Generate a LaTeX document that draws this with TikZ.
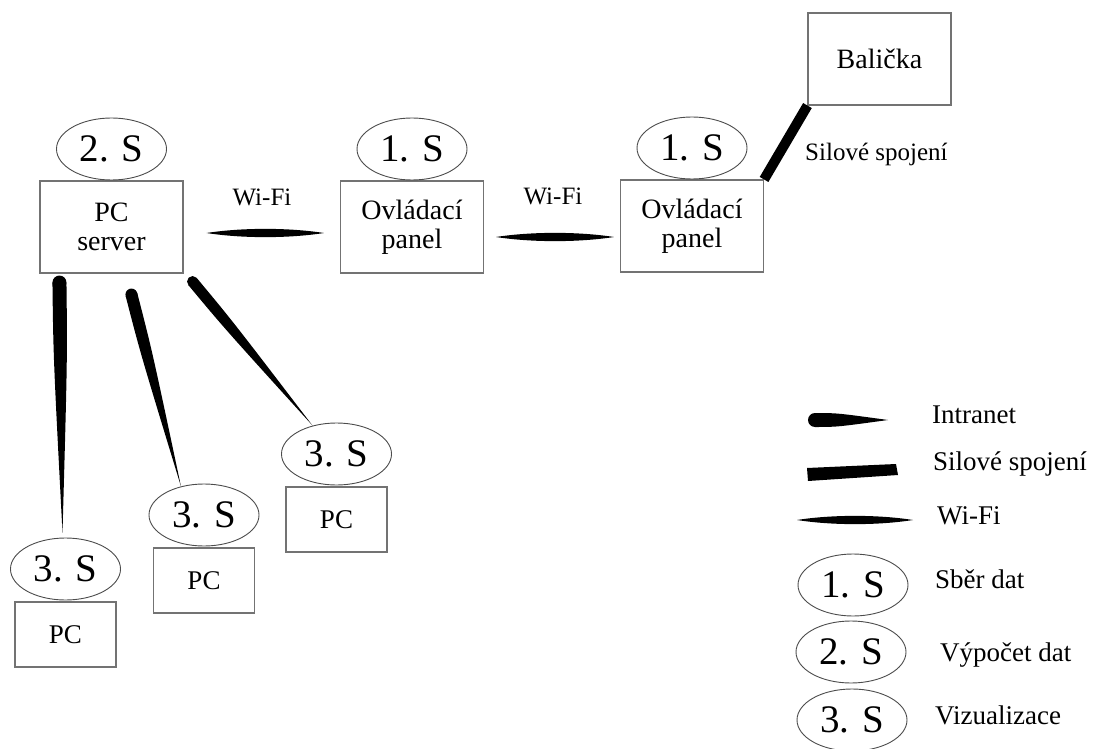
\documentclass[tikz,border=0pt]{standalone}
\usepackage{fontspec}
\setmainfont{Liberation Serif}
\usetikzlibrary{positioning,calc,shapes.geometric}

% lens shaped Wi-Fi link
\newcommand{\wifilink}[2]{%
  \fill (#1) .. controls ($(#1)!0.3!(#2)!5.5pt!90:(#2)$) and ($(#1)!0.7!(#2)!5.5pt!90:(#2)$) .. (#2)
    .. controls ($(#1)!0.7!(#2)!5.5pt!-90:(#2)$) and ($(#1)!0.3!(#2)!5.5pt!-90:(#2)$) .. (#1) -- cycle;}
% tapered Intranet link, round end at #1
\newcommand{\intranetlink}[3]{%
  \fill (#1) circle (#3);
  \fill ($(#1)!#3!90:(#2)$) .. controls ($(#1)!0.3!(#2)!#3!90:(#2)$) .. (#2)
    .. controls ($(#1)!0.3!(#2)!#3!-90:(#2)$) .. ($(#1)!#3!-90:(#2)$) -- cycle;}

\begin{document}
\begin{tikzpicture}[x=1pt,y=-1pt,
    box/.style={draw=black!55,line width=1.1pt,minimum width=143pt,minimum height=92pt,
      align=center,font=\fontsize{28}{29}\selectfont},
    pcbox/.style={box,minimum width=101pt,minimum height=65pt,font=\fontsize{27}{29}\selectfont},
    stage/.style={ellipse,draw=black!70,line width=0.9pt,minimum width=110pt,
      minimum height=62pt,inner sep=0pt,font=\fontsize{39}{40}\selectfont},
    lbl/.style={font=\fontsize{25}{28}\selectfont,inner sep=0pt},
    keylbl/.style={lbl,anchor=mid west,font=\fontsize{27}{29}\selectfont},
    silove/.style={line width=10pt}]
  \useasboundingbox (0,0) rectangle (1093,749);

  %Server and panels
  \node[box] (srv) at (111.5,227) {PC\\server};
  \node[stage,above=0pt of srv] (s2) {2. S};
  \node[box] (pan1) at (412,227) {Ovládací\\panel};
  \node[stage,above=0pt of pan1] (s1a) {1. S};
  \node[box] (pan2) at (692,226) {Ovládací\\panel};
  \node[stage,above=0pt of pan2] (s1b) {1. S};
  \node[box] (bal) at (879.5,59) {Balička};

  %PCs
  \node[pcbox] (pcA) at (65.5,634.5) {PC};
  \node[stage,above=1pt of pcA] (s3a) {3. S};
  \node[pcbox] (pcB) at (204,580.5) {PC};
  \node[stage,above=1pt of pcB] (s3b) {3. S};
  \node[pcbox] (pcC) at (336.5,519.5) {PC};
  \node[stage,above=1pt of pcC] (s3c) {3. S};

  %Wi-Fi
  \node[lbl] (wf1) at (262,197) {Wi-Fi};
  \node[lbl] (wf2) at (553,196) {Wi-Fi};
  \coordinate (w1a) at ($(srv.east)+(23,6)$);
  \coordinate (w1b) at ($(pan1.west)+(-16,6)$);
  \coordinate (w2a) at ($(pan1.east)+(12,10)$);
  \coordinate (w2b) at ($(pan2.west)+(-6,11)$);
  \wifilink{w1a}{w1b}
  \wifilink{w2a}{w2b}

  %Silove spojeni
  \draw[silove] (pan2.north east) -- (bal.south west);
  \node[lbl,anchor=mid west] (lsil) at (805,158) {Silové spojení};

  %Intranet
  \coordinate (i1a) at ($(srv.south west)+(20,9)$);
  \coordinate (i1b) at ($(s3a.north)+(-3,-5)$);
  \coordinate (i2a) at ($(srv.south west)+(92,21)$);
  \coordinate (i2b) at ($(s3b.north)+(-23,3)$);
  \coordinate (i3a) at ($(srv.south east)+(9,8)$);
  \coordinate (i3b) at ($(s3c.north)+(-24,3)$);
  \intranetlink{i1a}{i1b}{7pt}
  \intranetlink{i2a}{i2b}{6pt}
  \intranetlink{i3a}{i3b}{5.5pt}

  %Legend
  \coordinate (ki1) at (815,420);
  \coordinate (ki2) at (888,420);
  \intranetlink{ki1}{ki2}{7pt}
  \fill (807,468) -- (808,481) -- (898,475) -- (896,464) -- cycle;
  \coordinate (kw1) at (797,520);
  \coordinate (kw2) at (913,520);
  \wifilink{kw1}{kw2}
  \node[stage] (k1) at (853,585) {1. S};
  \node[stage] (k2) at (851,652) {2. S};
  \node[stage] (k3) at (852,720) {3. S};
  \node[keylbl] (t1) at (932,421) {Intranet};
  \node[keylbl] (t2) at (933,468) {Silové spojení};
  \node[keylbl] (t3) at (937,522) {Wi-Fi};
  \node[keylbl] (t4) at (935,586) {Sběr dat};
  \node[keylbl] (t5) at (940,659) {Výpočet dat};
  \node[keylbl] (t6) at (935,722) {Vizualizace};
\end{tikzpicture}
\end{document}
